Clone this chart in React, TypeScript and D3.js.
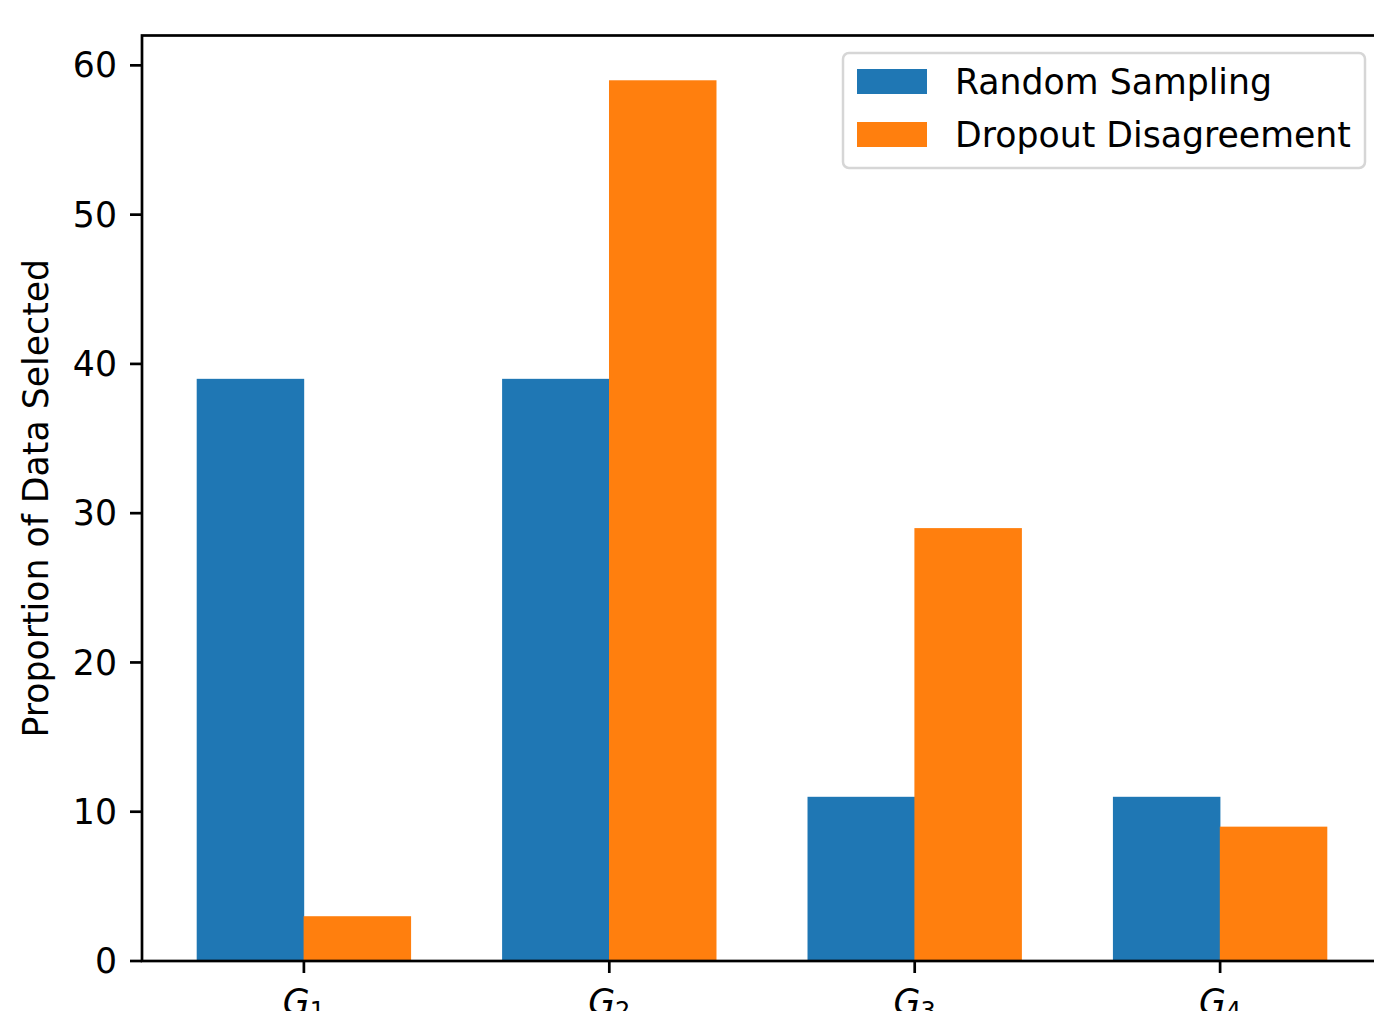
import React from 'react'
import * as d3 from 'd3'

const groups = ['1', '2', '3', '4']
const randomSampling = [39, 39, 11, 11]
const dropoutDisagreement = [3, 59, 29, 9]
const yTicks = [0, 10, 20, 30, 40, 50, 60]
const seriesNames = ['Random Sampling', 'Dropout Disagreement']
const colors = ['#1f77b4', '#ff7f0e']

const W = 1374
const H = 1011
const font = 'DejaVu Sans, sans-serif'
const fs = 34.7

export default function App() {
  const x = d3.scaleLinear().domain([-0.535, 3.535]).range([140.5, 1383.5])
  const y = d3.scaleLinear().domain([0, 62]).range([961, 35.5])
  const barW = x(0.35) - x(0) + 0.6
  const series = [randomSampling, dropoutDisagreement]
  const left = 142

  return (
    <svg
      width={W}
      height={H}
      style={{ position: 'absolute', left: 0, top: 0, background: '#fff' }}
      fontFamily={font}
    >
      {series.map((vals, s) => (
        <g key={s} fill={colors[s]}>
          {vals.map((v, i) => {
            const cx = i + (s === 0 ? -0.175 : 0.175)
            return (
              <rect
                key={i}
                x={x(cx) - barW / 2}
                y={y(v)}
                width={barW}
                height={y(0) - y(v)}
              />
            )
          })}
        </g>
      ))}

      {/* spines */}
      <rect
        x={left}
        y={y(62)}
        width={x(3.535) - left}
        height={y(0) - y(62)}
        fill="none"
        stroke="#000"
        strokeWidth={2.7}
      />

      {/* y axis */}
      {yTicks.map(t => (
        <g key={t}>
          <line x1={left - 12} x2={left} y1={y(t)} y2={y(t)} stroke="#000" strokeWidth={2.7} />
          <text x={left - 25} y={y(t)} dy="0.35em" textAnchor="end" fontSize={fs} fill="#000">
            {t}
          </text>
        </g>
      ))}
      <text
        transform={`translate(48, ${(y(0) + y(62)) / 2}) rotate(-90)`}
        textAnchor="middle"
        fontSize={fs}
        fill="#000"
      >
        Proportion of Data Selected
      </text>

      {/* x axis */}
      {groups.map((g, i) => (
        <g key={g}>
          <line x1={x(i)} x2={x(i)} y1={y(0)} y2={y(0) + 12} stroke="#000" strokeWidth={2.7} />
          <text x={x(i)} y={1014} textAnchor="middle" fontSize={fs} fill="#000">
            <tspan fontStyle="italic">G</tspan>
            <tspan fontSize={24} dy={5}>{g}</tspan>
          </text>
        </g>
      ))}

      {/* legend */}
      <g>
        <rect x={843} y={53} width={522} height={115} rx={6} fill="#fff" fillOpacity={0.8} stroke="#d6d6d6" strokeWidth={2.5} />
        {seriesNames.map((n, i) => (
          <g key={n} transform={`translate(0, ${i * 53})`}>
            <rect x={857} y={69} width={70} height={25} fill={colors[i]} />
            <text x={955} y={82} dy="0.35em" fontSize={fs} fill="#000">
              {n}
            </text>
          </g>
        ))}
      </g>
    </svg>
  )
}
